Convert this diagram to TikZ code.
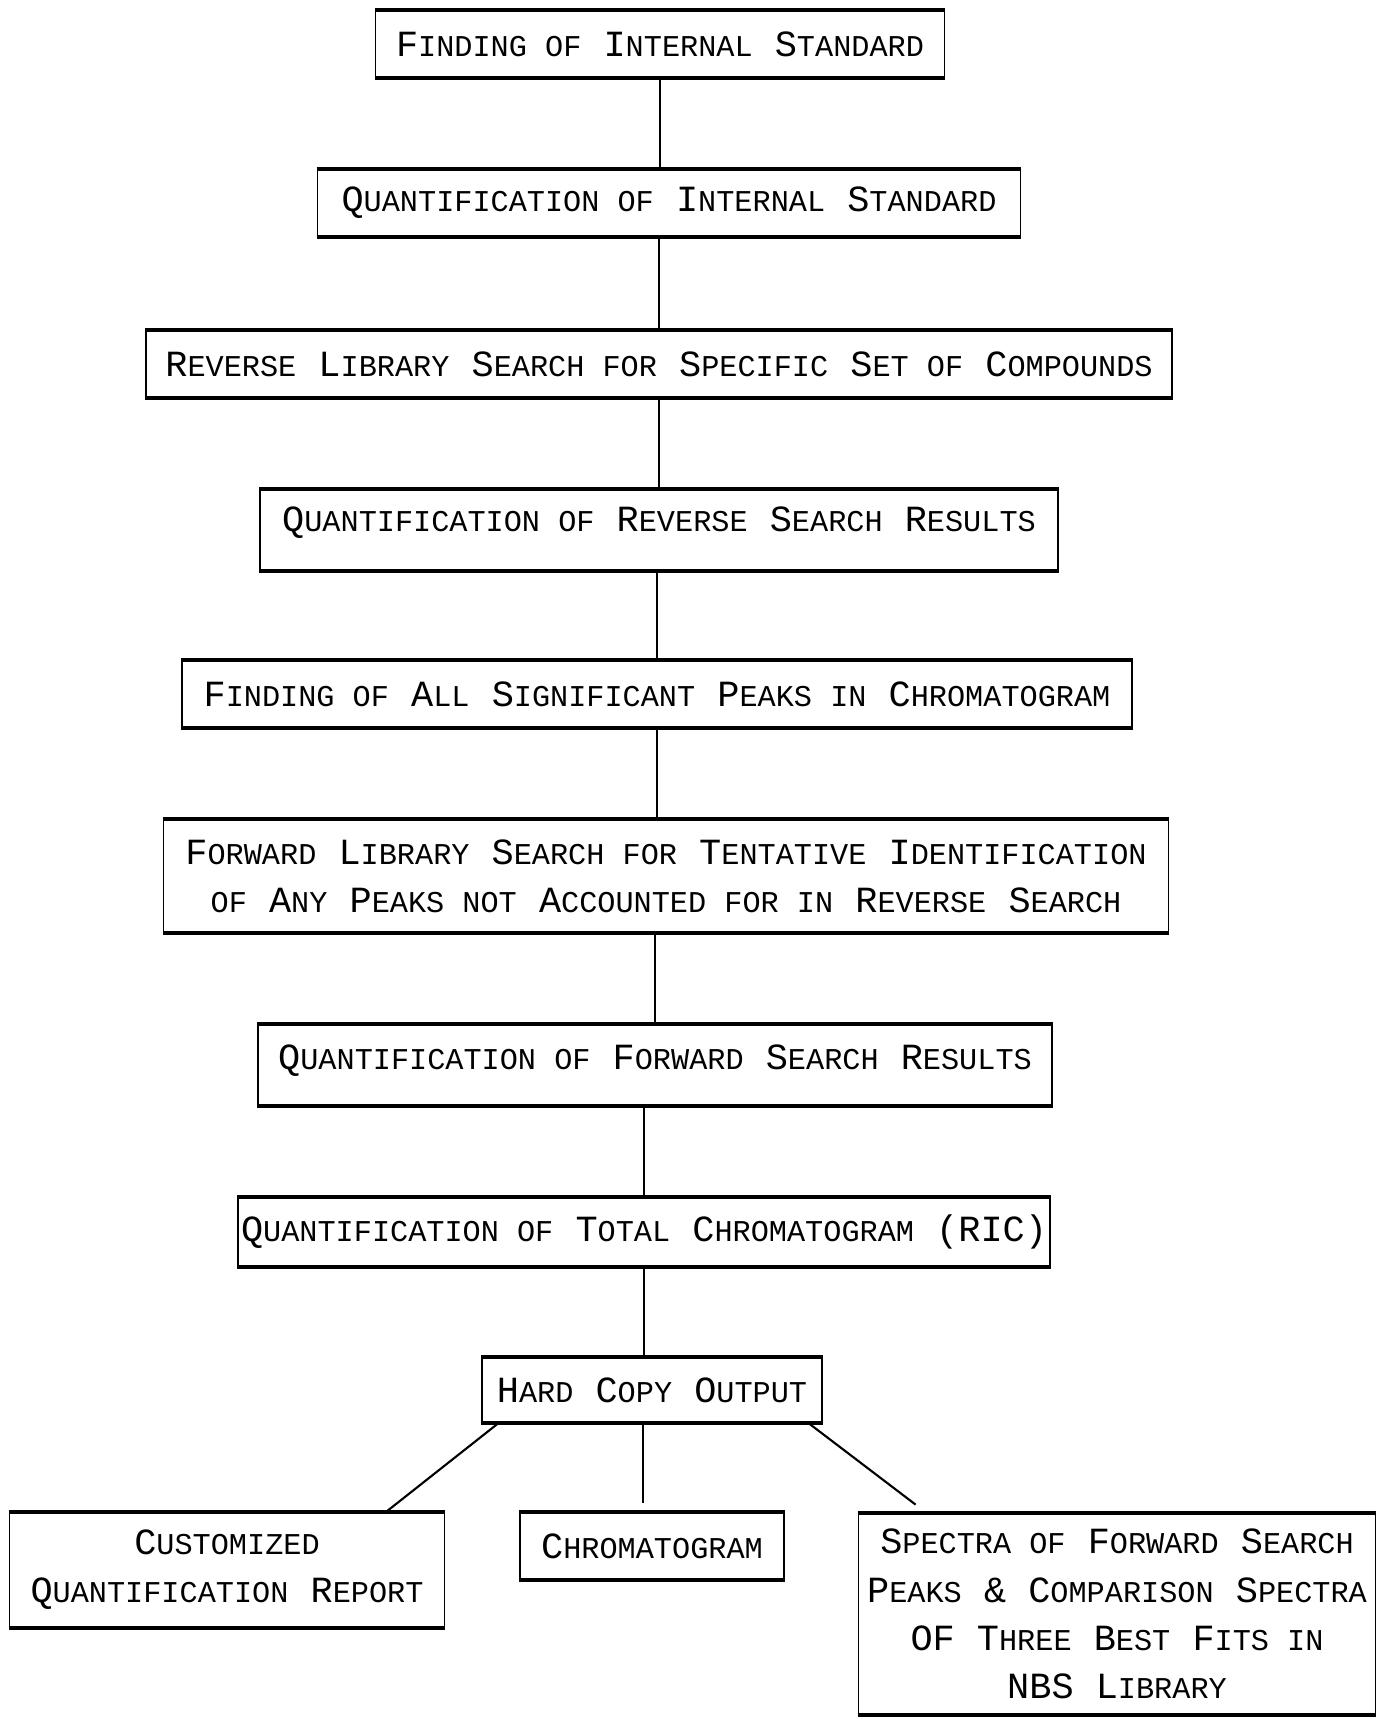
\documentclass[tikz,border=0pt]{standalone}
\usepackage{fontspec}
\usepackage{tikz}
\usetikzlibrary{positioning,calc}
\newfontfamily\plotfont{Liberation Mono}
\newcommand{\sm}[1]{{\fontsize{8.6}{13.7}\selectfont #1}}

\begin{document}
\begin{tikzpicture}[x=0.1mm, y=-0.1mm,
    every node/.style={font=\plotfont\fontsize{10.5}{13.7}\selectfont, align=center},
    stepbox/.style={draw, line width=0.5pt, inner sep=0pt},
    edgeline/.style={line width=1.1pt},
    link/.style={line width=0.6pt}]
    \useasboundingbox[fill=white] (0,0) rectangle (1379,1719);
    \node[stepbox, minimum width=56.9mm, minimum height=6.6mm] (b1) at (660,44)
      {F\sm{INDING OF} I\sm{NTERNAL} S\sm{TANDARD}};
    \node[stepbox, minimum width=70.3mm, minimum height=6.6mm] (b2) at (669,203)
      {Q\sm{UANTIFICATION OF} I\sm{NTERNAL} S\sm{TANDARD}};
    \node[stepbox, minimum width=102.6mm, minimum height=6.6mm] (b3) at (659,364)
      {R\sm{EVERSE} L\sm{IBRARY} S\sm{EARCH FOR} S\sm{PECIFIC} S\sm{ET OF} C\sm{OMPOUNDS}};
    \node[stepbox, minimum width=79.8mm, minimum height=8mm, text depth=2.2mm] (b4) at (659,530)
      {Q\sm{UANTIFICATION OF} R\sm{EVERSE} S\sm{EARCH} R\sm{ESULTS}};
    \node[stepbox, minimum width=95mm, minimum height=6.7mm] (b5) at (657,694)
      {F\sm{INDING OF} A\sm{LL} S\sm{IGNIFICANT} P\sm{EAKS IN} C\sm{HROMATOGRAM}};
    \node[stepbox, minimum width=100.5mm, minimum height=11.3mm] (b6) at (666,876)
      {F\sm{ORWARD} L\sm{IBRARY} S\sm{EARCH FOR} T\sm{ENTATIVE} I\sm{DENTIFICATION}\\
       \sm{OF} A\sm{NY} P\sm{EAKS NOT} A\sm{CCOUNTED FOR IN} R\sm{EVERSE} S\sm{EARCH}};
    \node[stepbox, minimum width=79.4mm, minimum height=8mm, text depth=1.6mm] (b7) at (655,1065)
      {Q\sm{UANTIFICATION OF} F\sm{ORWARD} S\sm{EARCH} R\sm{ESULTS}};
    \node[stepbox, minimum width=81.2mm, minimum height=6.8mm] (b8) at (644,1232)
      {Q\sm{UANTIFICATION OF} T\sm{OTAL} C\sm{HROMATOGRAM} (RIC)};
    \node[stepbox, minimum width=34mm, minimum height=6.5mm] (b9) at (652,1390)
      {H\sm{ARD} C\sm{OPY} O\sm{UTPUT}};
    \node[stepbox, minimum width=43.5mm, minimum height=11.5mm] (b10) at (227,1570)
      {C\sm{USTOMIZED}\\Q\sm{UANTIFICATION} R\sm{EPORT}};
    \node[stepbox, minimum width=26.4mm, minimum height=6.7mm] (b11) at (652,1546)
      {C\sm{HROMATOGRAM}};
    \node[stepbox, minimum width=51.7mm, minimum height=20.1mm] (b12) at (1117,1614)
      {S\sm{PECTRA OF} F\sm{ORWARD} S\sm{EARCH}\\
       P\sm{EAKS} \& C\sm{OMPARISON} S\sm{PECTRA}\\
       OF T\sm{HREE} B\sm{EST} F\sm{ITS IN}\\
       NBS L\sm{IBRARY}};
    % heavy top and bottom rules
    \foreach \n in {b1,b2,b3,b4,b5,b6,b7,b8,b9,b10,b11,b12}
      \draw[edgeline] (\n.north west) -- (\n.north east) (\n.south west) -- (\n.south east);
    \draw[link] (b1.south) -- (b1.south |- b2.north);
    \draw[link] (b3.north |- b2.south) -- (b3.north);
    \draw[link] (b3.south) -- (b3.south |- b4.north);
    \draw[link] (b5.north |- b4.south) -- (b5.north);
    \draw[link] (b5.south) -- (b5.south |- b6.north);
    \draw[link] (b7.north |- b6.south) -- (b7.north);
    \draw[link] (b8.north |- b7.south) -- (b8.north);
    \draw[link] (b8.south) -- (b8.south |- b9.north);
    \draw[link] ([xshift=-0.9mm]b9.south) -- ([xshift=-0.9mm, yshift=0.9mm]b11.north);
    \draw[link] ([xshift=1.7mm]b9.south west) -- ([xshift=-5.9mm]b10.north east);
    \draw[link] ([xshift=-1.4mm]b9.south east) -- ([xshift=5.8mm, yshift=0.8mm]b12.north west);
\end{tikzpicture}
\end{document}
